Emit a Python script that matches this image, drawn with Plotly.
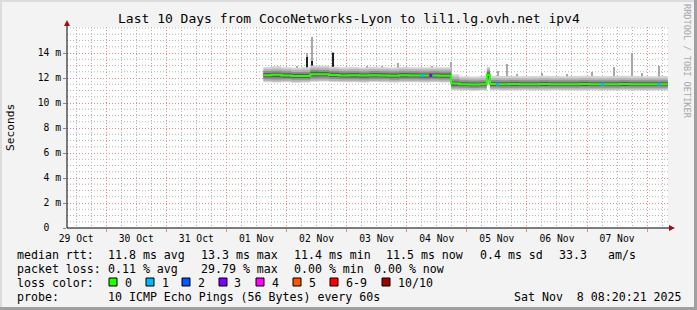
import plotly.graph_objects as go

# ---------------- data ----------------
t_start = "2025-10-29 08:20:21"
t_end = "2025-11-08 08:20:21"

day_labels = ["2025-10-29 12:00", "2025-10-30 12:00", "2025-10-31 12:00", "2025-11-01 12:00",
              "2025-11-02 12:00", "2025-11-03 12:00", "2025-11-04 12:00", "2025-11-05 12:00",
              "2025-11-06 12:00", "2025-11-07 12:00"]

y_ticks = [0, 2, 4, 6, 8, 10, 12, 14]
y_ticktext = ["0\u00a0\u00a0", "2 m", "4 m", "6 m", "8 m", "10 m", "12 m", "14 m"]
y_minor = [0.5, 1, 1.5, 2.5, 3, 3.5, 4.5, 5, 5.5, 6.5, 7, 7.5, 8.5, 9, 9.5, 10.5, 11, 11.5,
           12.5, 13, 13.5, 14.5, 15, 15.5, 16]

times = ["2025-11-01 14:45", "2025-11-01 18:00", "2025-11-01 22:00", "2025-11-02 02:00",
         "2025-11-02 06:00", "2025-11-02 09:30", "2025-11-02 13:00", "2025-11-02 17:00",
         "2025-11-02 21:00", "2025-11-03 01:00", "2025-11-03 05:00", "2025-11-03 09:00",
         "2025-11-03 13:00", "2025-11-03 17:00", "2025-11-03 21:00", "2025-11-04 01:00",
         "2025-11-04 05:00", "2025-11-04 09:00", "2025-11-04 13:00", "2025-11-04 17:45",
         "2025-11-04 21:00", "2025-11-05 01:00", "2025-11-05 05:00", "2025-11-05 08:00",
         "2025-11-05 09:15", "2025-11-05 13:00", "2025-11-05 17:00", "2025-11-05 21:00",
         "2025-11-06 01:00", "2025-11-06 05:00", "2025-11-06 09:00", "2025-11-06 13:00",
         "2025-11-06 17:00", "2025-11-06 21:00", "2025-11-07 01:00", "2025-11-07 05:00",
         "2025-11-07 09:00", "2025-11-07 13:00", "2025-11-07 17:00", "2025-11-07 21:00",
         "2025-11-08 01:00", "2025-11-08 05:00", "2025-11-08 08:15"]

median_ms = [12.22, 12.25, 12.20, 12.15, 12.15, 12.30, 12.30, 12.24, 12.20, 12.21, 12.19, 12.22,
             12.20, 12.18, 12.21, 12.20, 12.19, 12.20, 12.18, 11.55, 11.50, 11.48, 11.50, 12.25,
             11.52, 11.50, 11.51, 11.49, 11.50, 11.52, 11.50, 11.49, 11.50, 11.51, 11.50, 11.49,
             11.50, 11.51, 11.50, 11.50, 11.49, 11.50, 11.50]

fringe_lo = [11.66, 11.64, 11.66, 11.62, 11.64, 11.70, 11.72, 11.68, 11.66, 11.65, 11.64, 11.67,
             11.66, 11.64, 11.65, 11.66, 11.64, 11.65, 11.64, 11.02, 11.00, 10.98, 11.00, 11.50,
             11.02, 11.00, 10.99, 11.01, 11.00, 10.99, 11.02, 11.00, 10.99, 11.00, 11.01, 10.99,
             11.00, 11.02, 11.00, 10.99, 11.00, 11.01, 11.00]
lo_out = [11.75, 11.72, 11.74, 11.70, 11.72, 11.78, 11.80, 11.76, 11.74, 11.73, 11.72, 11.75,
          11.74, 11.72, 11.73, 11.74, 11.72, 11.73, 11.72, 11.10, 11.08, 11.06, 11.08, 11.60,
          11.10, 11.08, 11.07, 11.09, 11.08, 11.07, 11.10, 11.08, 11.07, 11.08, 11.09, 11.07,
          11.08, 11.10, 11.08, 11.07, 11.08, 11.09, 11.08]
lo_mid = [11.90, 11.88, 11.90, 11.86, 11.87, 11.95, 11.96, 11.92, 11.90, 11.89, 11.88, 11.90,
          11.90, 11.87, 11.89, 11.90, 11.88, 11.89, 11.88, 11.24, 11.22, 11.20, 11.22, 11.80,
          11.24, 11.22, 11.22, 11.21, 11.22, 11.23, 11.22, 11.21, 11.22, 11.23, 11.22, 11.21,
          11.22, 11.23, 11.22, 11.21, 11.22, 11.22, 11.22]
lo_in = [12.05, 12.06, 12.03, 12.00, 12.00, 12.12, 12.13, 12.07, 12.04, 12.04, 12.03, 12.05,
         12.04, 12.02, 12.04, 12.04, 12.03, 12.04, 12.02, 11.38, 11.36, 11.34, 11.36, 11.98,
         11.37, 11.36, 11.36, 11.35, 11.36, 11.37, 11.36, 11.35, 11.36, 11.37, 11.36, 11.35,
         11.36, 11.37, 11.36, 11.35, 11.35, 11.36, 11.36]
hi_in = [12.40, 12.42, 12.38, 12.33, 12.34, 12.50, 12.48, 12.42, 12.38, 12.39, 12.37, 12.40,
         12.38, 12.36, 12.39, 12.38, 12.37, 12.38, 12.36, 11.72, 11.66, 11.64, 11.66, 12.45,
         11.68, 11.66, 11.67, 11.65, 11.66, 11.68, 11.66, 11.65, 11.66, 11.67, 11.66, 11.65,
         11.66, 11.68, 11.66, 11.65, 11.65, 11.66, 11.66]
hi_mid = [12.55, 12.58, 12.53, 12.48, 12.50, 12.66, 12.64, 12.57, 12.53, 12.54, 12.52, 12.55,
          12.53, 12.51, 12.54, 12.53, 12.52, 12.53, 12.52, 11.90, 11.82, 11.80, 11.82, 12.60,
          11.84, 11.82, 11.83, 11.81, 11.82, 11.84, 11.82, 11.81, 11.82, 11.83, 11.82, 11.81,
          11.82, 11.84, 11.82, 11.81, 11.81, 11.82, 11.82]
hi_out = [12.72, 12.76, 12.70, 12.66, 12.68, 12.84, 12.82, 12.74, 12.70, 12.71, 12.69, 12.72,
          12.70, 12.68, 12.71, 12.70, 12.69, 12.70, 12.70, 12.10, 11.98, 11.96, 11.98, 12.75,
          12.00, 11.98, 11.99, 11.97, 11.98, 12.00, 11.98, 11.97, 11.98, 12.00, 11.98, 11.97,
          11.98, 12.00, 11.98, 11.97, 11.97, 11.98, 11.98]
fringe_hi = [12.88, 12.95, 12.86, 12.82, 12.85, 13.00, 12.98, 12.90, 12.86, 12.88, 12.84, 12.90,
             12.87, 12.84, 12.88, 12.86, 12.85, 12.87, 12.86, 12.30, 12.14, 12.12, 12.15, 12.90,
             12.18, 12.15, 12.16, 12.13, 12.15, 12.17, 12.15, 12.13, 12.15, 12.17, 12.15, 12.13,
             12.15, 12.18, 12.15, 12.13, 12.14, 12.15, 12.15]

spike_t = ["2025-11-01 17:00", "2025-11-01 20:30", "2025-11-02 04:00", "2025-11-02 08:00",
           "2025-11-02 10:00", "2025-11-02 14:30", "2025-11-02 18:45", "2025-11-03 02:50",
           "2025-11-03 08:00", "2025-11-03 14:00", "2025-11-03 20:25", "2025-11-04 10:00",
           "2025-11-04 17:30", "2025-11-05 12:25", "2025-11-05 16:00", "2025-11-05 20:00",
           "2025-11-06 06:00", "2025-11-06 16:00", "2025-11-07 02:00", "2025-11-07 10:50",
           "2025-11-07 18:10", "2025-11-07 22:00", "2025-11-08 04:45"]
spike_top = [12.9, 12.95, 13.0, 14.0, 15.3, 12.95, 14.1, 12.9, 12.95, 13.0, 13.2, 12.95,
             13.3, 12.6, 13.1, 12.3, 12.4, 12.35, 12.5, 12.9, 14.0, 12.4, 13.0]
spike_base = [12.2, 12.2, 12.2, 12.2, 12.3, 12.3, 12.2, 12.2, 12.2, 12.2, 12.2, 12.2,
              12.2, 11.5, 11.5, 11.5, 11.5, 11.5, 11.5, 11.5, 11.5, 11.5, 11.5]

dark_t = ["2025-11-02 08:00", "2025-11-02 10:00", "2025-11-02 18:45", "2025-11-05 08:20",
          "2025-11-05 13:30", "2025-11-07 18:10"]
dark_top = [13.7, 13.4, 14.0, 12.65, 12.0, 12.2]
dark_base = [12.2, 12.3, 12.2, 11.5, 11.5, 11.5]

loss_t = ["2025-11-04 06:15", "2025-11-04 09:35", "2025-11-05 12:15", "2025-11-07 06:15",
          "2025-11-08 04:45"]
loss_n = [1, 3, 1, 1, 1]
loss_rtt = [12.19, 12.20, 11.50, 11.49, 11.50]

loss_labels = ["0", "1", "2", "3", "4", "5", "6-9", "10/10"]
loss_colors = ["#26ff00", "#00b8ff", "#0059ff", "#7e00ff", "#ff00ff", "#ff5500", "#ff0000", "#a10000"]

title_text = "Last 10 Days from CocoNetworks-Lyon to lil1.lg.ovh.net ipv4"
stats_rtt = ["median rtt:", "11.8 ms avg", "13.3 ms max", "11.4 ms min", "11.5 ms now",
             "0.4 ms sd", "33.3", "am/s"]
stats_loss = ["packet loss:", "0.11 % avg", "29.79 % max", "0.00 % min", "0.00 % now"]
probe_text = ["probe:", "10 ICMP Echo Pings (56 Bytes) every 60s", "Sat Nov\u00a0 8 08:20:21 2025"]

# ---------------- layout helpers ----------------
W, H = 697, 310
PL, PR, PT, PB = 67, 668, 27, 228
MONO = "DejaVu Sans Mono"
RED = "#e58a8a"
GRAY = "#b4b4b4"
DASH = "1px,2px"
Y_RANGE = [0, 16.08]


def px(x):
    return (x - PL) / (PR - PL)


def py(y):
    return (PB - y) / (PB - PT)


def loss_color(n):
    if n >= 10:
        return loss_colors[7]
    if n >= 6:
        return loss_colors[6]
    return loss_colors[n]


fig = go.Figure()

# gray smoke spikes (behind bands)
fig.add_trace(go.Bar(x=spike_t, y=[a - b for a, b in zip(spike_top, spike_base)], base=spike_base,
                     width=1500000, marker=dict(color="#a8a8a8", line=dict(width=0)), showlegend=False))

band_colors = ["#d4d4d4", "#b4b4b4", "#8e8e8e", "#5c5c5c"]
for lo, hi, col in [(fringe_lo, fringe_hi, band_colors[0]), (lo_out, hi_out, band_colors[1]),
                    (lo_mid, hi_mid, band_colors[2]), (lo_in, hi_in, band_colors[3])]:
    fig.add_trace(go.Scatter(x=times, y=lo, mode="lines", line=dict(width=0, shape="hv"),
                             showlegend=False, hoverinfo="skip"))
    fig.add_trace(go.Scatter(x=times, y=hi, mode="lines", line=dict(width=0, shape="hv"),
                             fill="tonexty", fillcolor=col, showlegend=False, hoverinfo="skip"))

# dark inner spikes
fig.add_trace(go.Bar(x=dark_t, y=[a - b for a, b in zip(dark_top, dark_base)], base=dark_base,
                     width=1500000, marker=dict(color="#202020", line=dict(width=0)), showlegend=False))

# median line (loss 0 colour)
fig.add_trace(go.Scatter(x=times, y=median_ms, mode="lines",
                         line=dict(color=loss_colors[0], width=2, shape="hv"), showlegend=False))

# median points with packet loss
fig.add_trace(go.Scatter(x=loss_t, y=loss_rtt, mode="markers",
                         marker=dict(symbol="square", size=3, color=[loss_color(n) for n in loss_n],
                                     line=dict(width=0)), showlegend=False))

# invisible trace that attaches the grid-only overlay x axis
fig.add_trace(go.Scatter(x=[t_start], y=[0], xaxis="x2", yaxis="y", mode="markers",
                         marker=dict(opacity=0), showlegend=False, hoverinfo="skip"))

annotations = []


def ann(x, y, text, size=11.6, anchor="left", color="#000000", angle=0):
    annotations.append(dict(x=px(x), y=py(y), xref="paper", yref="paper", text=text,
                            showarrow=False, xanchor=anchor, yanchor="middle", textangle=angle,
                            font=dict(family=MONO, size=size, color=color), borderpad=0))


ann(348.5, 18, title_text, size=13, anchor="center")
ann(10, 128, "Seconds", size=11.2, anchor="center", angle=-90)
ann(687, 61, "RRDTOOL / TOBI OETIKER", size=8.6, anchor="center", color="#a8a8a8", angle=90)

rtt_x = [16, 107, 200, 293, 385, 479, 558, 607]
for x, s in zip(rtt_x, stats_rtt):
    ann(x, 254.5, s)
loss_x = [16, 107, 200, 293, 373]
for x, s in zip(loss_x, stats_loss):
    ann(x, 268.5, s)
ann(16, 282.5, "loss color:")
box_x = [109, 146, 182, 219, 256, 293, 330, 382]
shapes = []

# horizontal minor grid (0.5 ms steps) drawn beneath the data
for v in y_minor:
    shapes.append(dict(type="line", xref="paper", yref="y", x0=0, x1=1, y0=v, y1=v, layer="below",
                       line=dict(color=GRAY, width=1, dash=DASH)))

for x, lab, col in zip(box_x, loss_labels, loss_colors):
    shapes.append(dict(type="rect", xref="paper", yref="paper", x0=px(x), x1=px(x + 8),
                       y0=py(286), y1=py(278), fillcolor=col, line=dict(color="#000000", width=1)))
    ann(x + 14.5, 282.5, lab)
ann(16, 296.5, probe_text[0])
ann(107, 296.5, probe_text[1])
ann(513, 296.5, probe_text[2])

# axes lines and arrows
shapes.append(dict(type="line", xref="paper", yref="paper", x0=px(67), x1=px(671), y0=py(228), y1=py(228),
                   line=dict(color="#000000", width=1)))
shapes.append(dict(type="line", xref="paper", yref="paper", x0=px(67), x1=px(67), y0=py(228), y1=py(24),
                   line=dict(color="#000000", width=1)))
shapes.append(dict(type="path", xref="paper", yref="paper",
                   path=f"M {px(64)} {py(26)} L {px(70)} {py(26)} L {px(67)} {py(20)} Z",
                   fillcolor="#9b1111", line=dict(width=0)))
shapes.append(dict(type="path", xref="paper", yref="paper",
                   path=f"M {px(669)} {py(225)} L {px(669)} {py(231)} L {px(675)} {py(228)} Z",
                   fillcolor="#9b1111", line=dict(width=0)))
# image frame
shapes.append(dict(type="rect", xref="paper", yref="paper", x0=px(0), x1=px(697), y0=py(2), y1=py(0),
                   fillcolor="#dcdcdc", line=dict(width=0), layer="below"))
shapes.append(dict(type="rect", xref="paper", yref="paper", x0=px(0), x1=px(2), y0=py(310), y1=py(0),
                   fillcolor="#dcdcdc", line=dict(width=0), layer="below"))
shapes.append(dict(type="rect", xref="paper", yref="paper", x0=px(694), x1=px(697), y0=py(310), y1=py(0),
                   fillcolor="#a0a0a0", line=dict(width=0)))
shapes.append(dict(type="rect", xref="paper", yref="paper", x0=px(0), x1=px(697), y0=py(310), y1=py(307),
                   fillcolor="#a0a0a0", line=dict(width=0)))

fig.update_layout(
    width=W, height=H,
    margin=dict(l=PL, r=W - PR, t=PT, b=H - PB, pad=0),
    paper_bgcolor="#f3f3f3", plot_bgcolor="#ffffff",
    showlegend=False, hovermode=False, barmode="overlay", bargap=0,
    xaxis=dict(type="date", range=[t_start, t_end], tickvals=day_labels, tickformat="%d %b",
               ticks="", showgrid=False, zeroline=False, showline=False, ticklabelstandoff=3,
               tickfont=dict(family=MONO, size=9.7, color="#000000")),
    xaxis2=dict(type="date", range=[t_start, t_end], overlaying="x", anchor="y", side="bottom",
                tick0="2025-10-30 00:00", dtick=86400000, showgrid=True, gridcolor=RED,
                griddash=DASH, gridwidth=1, showticklabels=False, ticks="outside",
                ticklen=3, tickcolor=RED, zeroline=False, showline=False,
                minor=dict(tick0="2025-10-29 00:00", dtick=21600000, showgrid=True, gridcolor=GRAY,
                           griddash=DASH, gridwidth=1, ticks="")),
    yaxis=dict(range=Y_RANGE, tickvals=y_ticks, ticktext=y_ticktext, showgrid=True,
               gridcolor=RED, griddash=DASH, gridwidth=1, zeroline=False, showline=False,
               ticks="outside", ticklen=3, tickcolor="#888888",
               tickfont=dict(family=MONO, size=9.7, color="#000000")),
    annotations=annotations,
    shapes=shapes,
)

fig.write_html("out.html")
